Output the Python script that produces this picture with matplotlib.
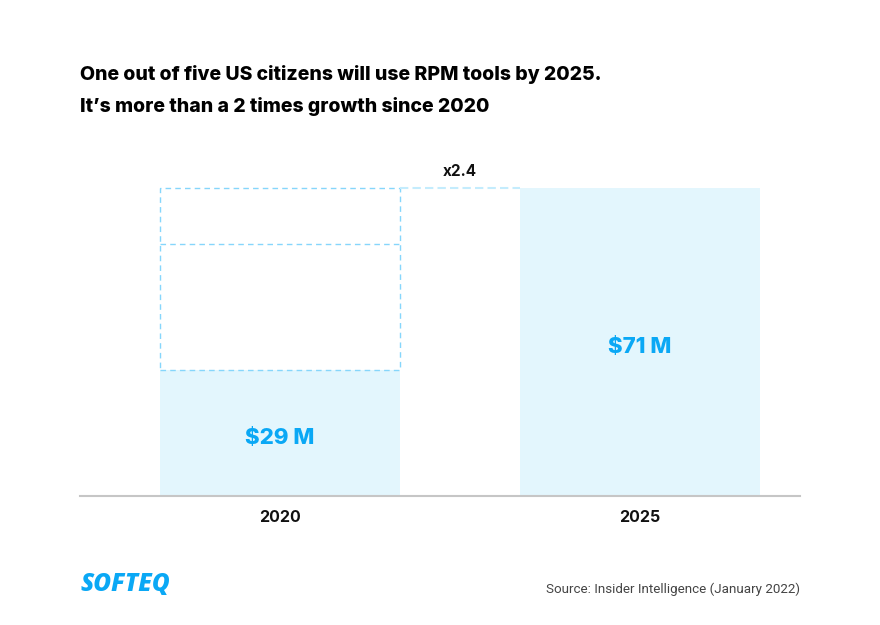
import matplotlib
matplotlib.use("Agg")
import matplotlib.pyplot as plt
from matplotlib.patches import Rectangle

categories = ["2020", "2025"]
values = [29, 71]
value_labels = ["$29 M", "$71 M"]
growth_label = "x2.4"
title_lines = ["One out of five US citizens will use RPM tools by 2025.",
               "It\u2019s more than a 2 times growth since 2020"]
source = "Source: Insider Intelligence (January 2022)"
logo = "SOFTEQ"

BAR = "#e3f6fd"
BLUE = "#0aa8f5"
DASH = "#86d6fb"

W, H = 880, 625
fig = plt.figure(figsize=(W / 100, H / 100), dpi=100)
fig.patch.set_facecolor("white")

ax_top = 150
ax = fig.add_axes([80 / W, (H - 496) / H, 720 / W, (496 - ax_top) / H])
x = [0, 1]
width = 240 / 360
ax.bar(x, values, width=width, color=BAR, zorder=1)
ax.set_xlim(-200 / 360, 1 + 160 / 360)
ax.set_ylim(0, values[1] * (496 - ax_top) / 308)

# dashed ghost boxes on 2020 bar
x0 = x[0] - width / 2
x1 = x[0] + width / 2
ax.add_patch(Rectangle((x0, values[0]), width, values[1] - values[0], fill=False,
                       edgecolor=DASH, linestyle=(0, (4, 3)), linewidth=1.0, zorder=2))
ax.plot([x0, x1], [2 * values[0], 2 * values[0]], color=DASH, linestyle=(0, (4, 3)), linewidth=1.0, zorder=2)
ax.plot([x1, x[1] - width / 2], [values[1], values[1]], color="#c4ecfd", linestyle=(0, (4, 2)), linewidth=1.5, zorder=2)

for xi, v, lab in zip(x, values, value_labels):
    ax.annotate(lab, (xi, v / 2), xytext=(0, -7.9), textcoords="offset points",
                ha="center", va="baseline", color=BLUE, fontsize=16,
                fontweight="heavy", family="Inter")

ax.annotate(growth_label, (0.5, values[1]), xytext=(0, 12), textcoords="offset points",
            ha="center", va="center", color="#111111",
            fontsize=11, fontweight="bold", family="Inter")

for s in ["top", "right", "left"]:
    ax.spines[s].set_visible(False)
ax.spines["bottom"].set_color("#c6c6c6")
ax.spines["bottom"].set_linewidth(1.5)
ax.set_yticks([])
ax.set_xticks(x)
ax.set_xticklabels(categories, fontsize=11.5, fontweight="bold", family="Inter", color="#111111")
ax.tick_params(axis="x", length=0, pad=10)

for line, base in zip(title_lines, [80, 112]):
    fig.text(80 / W, 1 - base / H, line, ha="left", va="baseline", fontsize=14,
             fontweight="heavy", family="Inter", color="#000000")

fig.text(80 / W, 1 - 591 / H, logo, ha="left", va="baseline", fontsize=17.5, fontweight="heavy",
         style="italic", family="Open Sans", color=BLUE)
fig.text(800 / W, 1 - 589 / H, source, ha="right", va="center", fontsize=9.6,
         family="Roboto", color="#444444")

fig.savefig("out.png", dpi=100, facecolor="white")
